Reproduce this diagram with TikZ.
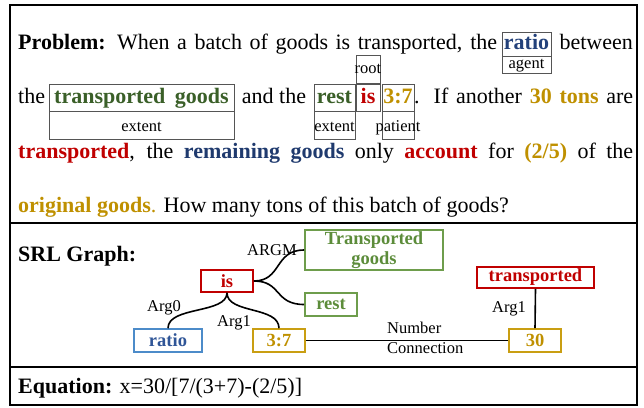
\documentclass[tikz,border=0pt]{standalone}
\usepackage{fontspec}
\setmainfont{Liberation Serif}
\definecolor{pgreen}{HTML}{3A5F28}
\definecolor{pblue}{HTML}{23417A}
\definecolor{pnavy}{HTML}{1F3A6E}
\definecolor{pred}{HTML}{C00000}
\definecolor{pgold}{HTML}{BF9000}
\definecolor{ggreen}{HTML}{6E9D4C}
\definecolor{ggreentext}{HTML}{5C8C3A}
\definecolor{gblue}{HTML}{4C8BC9}
\definecolor{gbluetext}{HTML}{2F5597}
\definecolor{ggold}{HTML}{C99E12}
\definecolor{boxgray}{HTML}{555555}
\newcommand\bigtxt{\fontsize{22pt}{26pt}\selectfont}
\newcommand\smtxt{\fontsize{16.5pt}{19pt}\selectfont}
\newcommand\grtxt{\fontsize{18.5pt}{20pt}\selectfont}
\begin{document}
\begin{tikzpicture}[x=1pt,y=-1pt,
  txt/.style={inner sep=0pt,anchor=base west,font=\bigtxt},
  wordbox/.style={draw=boxgray,line width=0.9pt,inner sep=0pt,text height=19pt,text depth=8pt,anchor=base,font=\bigtxt\bfseries},
  rolebox/.style={draw=boxgray,line width=0.9pt,inner sep=0pt,text height=19.5pt,text depth=8.5pt,anchor=north,font=\smtxt},
  gbox/.style={draw,line width=1.6pt,inner sep=0pt,font=\grtxt\bfseries},
  glabel/.style={inner sep=0pt,anchor=base west,font=\smtxt},
  edge/.style={line width=1.6pt,black}]
\useasboundingbox (0,0) rectangle (644,407);
% frame and dividers
\draw[line width=2pt] (10,5) rectangle (637,405);
\draw[line width=2pt] (10,223) -- (637,223);
\draw[line width=2pt] (10,367) -- (637,367);

% ---- Problem text ----
% line 1
\node[txt] (l1a) at (18,49) {\makebox[479pt][s]{\textbf{Problem:} When a batch of goods is transported, the}};
\node[wordbox,minimum width=49pt,text height=17pt,text depth=7pt,text=pblue] (ratioW) at (526.5,49) {ratio};
\node[rolebox,minimum width=49pt,text height=12pt,text depth=5pt] (agentW) at (ratioW.south) {agent};
\node[txt,anchor=base east] (l1b) at (633,49) {between};
% line 2
\node[txt] (l2a) at (18,103) {the};
\node[wordbox,minimum width=185pt,text=pgreen] (tgW) at (141.5,103) {transported\hspace{4pt} goods};
\node[rolebox,minimum width=185pt] (ext1) at (tgW.south) {extent};
\node[txt,anchor=base] (l2b) at (274,103) {and the};
\node[wordbox,minimum width=41pt,text=pgreen] (restW) at (334.5,103) {rest};
\node[rolebox,minimum width=41pt] (ext2) at (restW.south) {\makebox[0pt]{extent}};
\node[wordbox,minimum width=24pt,text=pred] (isW) at (368,103) {is};
\node[rolebox,minimum width=24pt,anchor=south,text height=18pt,text depth=10pt] (rootW) at (isW.north) {\makebox[0pt]{root}};
\node[wordbox,minimum width=32pt,text=pgold] (ratW) at (398,103) {3:7};
\node[rolebox,minimum width=32pt] (patW) at (ratW.south) {\makebox[0pt]{patient}};
\node[txt] (l2c) at (414,103) {\makebox[219pt][s]{. If another \textcolor{pgold}{\textbf{30 tons}} are}};
% line 3
\node[txt] (l3) at (18,158) {\makebox[615pt][s]{\textcolor{pred}{\textbf{transported}}, the \textcolor{pnavy}{\textbf{remaining goods}} only \textcolor{pred}{\textbf{account}} for \textcolor{pgold}{\textbf{(2/5)}} of the}};
% line 4
\node[txt] (l4) at (18,212) {\textcolor{pgold}{\textbf{original goods}.} How many tons of this batch of goods?};

% ---- SRL graph ----
\node[txt,font=\bigtxt\bfseries] (srl) at (18,261) {SRL Graph:};
\node[gbox,draw=pred,text=pred,minimum width=52pt,minimum height=22pt] (is) at (227,281) {is};
\node[gbox,draw=ggreen,text=ggreentext,minimum width=138pt,minimum height=40pt,align=center] (tg) at (374,250) {Transported\\[-0.5pt]goods};
\node[gbox,draw=ggreen,text=ggreentext,minimum width=52pt,minimum height=23pt] (rest) at (331,304.5) {rest};
\node[gbox,draw=gblue,text=gbluetext,minimum width=68pt,minimum height=23pt] (ratio) at (168,340.5) {ratio};
\node[gbox,draw=ggold,text=pgold,minimum width=52pt,minimum height=23pt] (r37) at (279,340.5) {3:7};
\node[gbox,draw=pred,text=pred,minimum width=117pt,minimum height=21pt] (tr) at (535.5,277.5) {transported};
\node[gbox,draw=ggold,text=pgold,minimum width=52pt,minimum height=23pt] (n30) at (535,340.5) {30};

\draw[edge] (is.east) .. controls (282,281) and (274,250) .. (tg.west);
\draw[edge] (is.east) .. controls (282,281) and (274,304.5) .. (rest.west);
\draw[edge] (is.south) .. controls (227,314) and (168,306) .. (ratio.north);
\draw[edge] (is.south) .. controls (227,314) and (279,306) .. (r37.north);
\draw[edge] (r37.east) -- (n30.west);
\draw[edge] (tr.south) -- (n30.north);

\node[glabel] (argm) at (247,255) {ARGM};
\node[glabel] (arg0) at (147,311) {Arg0};
\node[glabel] (arg1a) at (217,326) {Arg1};
\node[glabel] (arg1b) at (492,312) {Arg1};
\node[glabel] (numc1) at (387,333) {Number};
\node[glabel] (numc2) at (387,353) {Connection};

% ---- Equation ----
\node[txt] (eq) at (18,393) {\textbf{Equation:} x=30/[7/(3+7)-(2/5)]};
\end{tikzpicture}
\end{document}
